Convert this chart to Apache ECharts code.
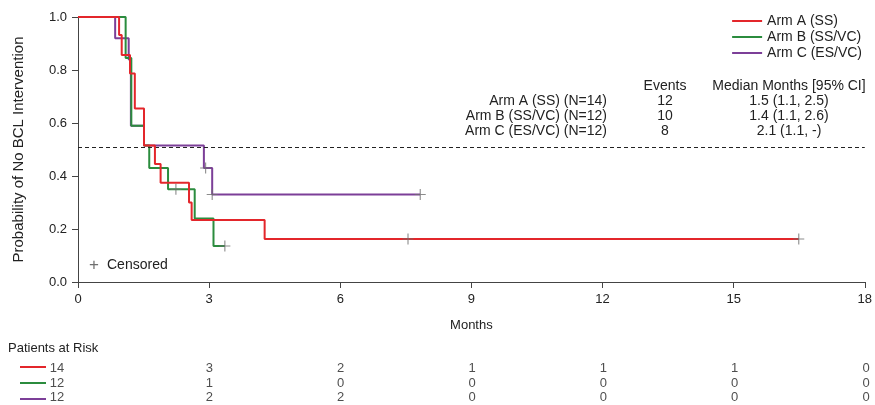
<!DOCTYPE html>
<html>
<head>
<meta charset="utf-8">
<script src="https://cdn.jsdelivr.net/npm/echarts@6/dist/echarts.min.js"></script>
<style>
  html, body { margin: 0; padding: 0; background: #fff; }
  #chart { width: 875px; height: 405px; }
</style>
</head>
<body>
<div id="chart"></div>
<script>
// 曲线数据：时间（月）与生存概率
const armNames = ['Arm A (SS)', 'Arm B (SS/VC)', 'Arm C (ES/VC)']
const armColors = ['#e3262b', '#2b8c3e', '#7c3f98']

const timesA = [0, 0.94, 1.0, 1.19, 1.30, 1.51, 1.76, 1.89, 2.54, 2.60, 4.27, 16.49]
const survA = [1, 0.932, 0.857, 0.787, 0.655, 0.515, 0.445, 0.375, 0.30, 0.234, 0.162, 0.162]
const timesB = [0, 1.09, 1.22, 1.51, 1.63, 2.06, 2.67, 3.10, 3.36]
const survB = [1, 0.845, 0.59, 0.515, 0.43, 0.35, 0.24, 0.136, 0.136]
const timesC = [0, 0.85, 1.16, 1.21, 1.51, 2.88, 3.07, 7.83]
const survC = [1, 0.92, 0.84, 0.59, 0.515, 0.43, 0.33, 0.33]

// 删失点
const censorA = [[7.55, 0.162], [16.49, 0.162]]
const censorB = [[2.24, 0.35], [3.36, 0.136]]
const censorC = [[2.92, 0.43], [3.07, 0.33], [7.83, 0.33]]

// 中位线
const medianLine = 0.51

// 统计表
const tableLabels = ['Arm A (SS) (N=14)', 'Arm B (SS/VC) (N=12)', 'Arm C (ES/VC) (N=12)']
const tableEvents = ['12', '10', '8']
const tableMedians = ['1.5 (1.1, 2.5)', '1.4 (1.1, 2.6)', '2.1 (1.1, -)']

// 风险人数
const riskTimes = [0, 3, 6, 9, 12, 15, 18]
const riskA = [14, 3, 2, 1, 1, 1, 0]
const riskB = [12, 1, 0, 0, 0, 0, 0]
const riskC = [12, 2, 2, 0, 0, 0, 0]

const FONT = '"Liberation Sans", Arial, sans-serif'
const zip = (xs, ys) => xs.map((x, i) => [x, ys[i]])

const curves = [zip(timesA, survA), zip(timesB, survB), zip(timesC, survC)]
const censors = [censorA, censorB, censorC]
const risks = [riskA, riskB, riskC]
const plusPath = 'path://M4.5,0h1v4.5h4.5v1h-4.5v4.5h-1v-4.5h-4.5v-1h4.5z'

const series = []
// 先画紫、绿，最后画红
for (let i = 2; i >= 0; i--) {
    series.push({
        type: 'line',
        name: armNames[i],
        data: curves[i],
        step: 'end',
        showSymbol: false,
        color: armColors[i],
        lineStyle: { width: 2, color: armColors[i] },
        z: 3 + (2 - i),
        markLine: i === 0 ? {
            silent: true,
            symbol: 'none',
            label: { show: false },
            lineStyle: { type: [4, 3], color: '#222', width: 1 },
            data: [{ yAxis: medianLine }]
        } : undefined
    })
}
for (let i = 0; i < 3; i++) {
    series.push({
        type: 'scatter',
        name: 'censor' + i,
        data: censors[i],
        symbol: plusPath,
        symbolSize: 11,
        itemStyle: { color: '#6f6f6f' },
        z: 10
    })
}
// 风险人数表格
for (let i = 0; i < 3; i++) {
    series.push({
        type: 'scatter',
        xAxisIndex: 1,
        yAxisIndex: 1,
        data: riskTimes.map((t, k) => ({
            value: [t, i, risks[i][k]],
            label: k === 0 ? { offset: [-21, 0] } : undefined
        })),
        symbolSize: 1,
        itemStyle: { color: 'transparent' },
        label: {
            show: true,
            position: 'inside',
            formatter: p => p.value[2],
            color: '#222',
            fontSize: 13,
            fontFamily: FONT
        }
    })
}

const graphics = []
const txt = (text, x, y, align, size) => ({
    type: 'text',
    x: x, y: y,
    style: {
        text: text, font: (size || 14) + 'px ' + FONT, fill: '#222',
        textAlign: align, align: align, textVerticalAlign: 'middle', verticalAlign: 'middle'
    }
})
graphics.push(txt('Events', 665, 86, 'center'))
graphics.push(txt('Median Months [95% CI]', 789, 86, 'center'))
for (let i = 0; i < 3; i++) {
    const y = 101 + i * 15
    graphics.push(txt(tableLabels[i], 607, y, 'right'))
    graphics.push(txt(tableEvents[i], 665, y, 'center'))
    graphics.push(txt(tableMedians[i], 789, y, 'center'))
}
graphics.push({
    type: 'text', x: 94, y: 265,
    style: { text: '+', font: '17px ' + FONT, fill: '#6f6f6f', textAlign: 'center', align: 'center', textVerticalAlign: 'middle', verticalAlign: 'middle' }
})
graphics.push(txt('Censored', 107, 265, 'left', 14))
graphics.push(txt('Patients at Risk', 8, 348, 'left', 13))
for (let i = 0; i < 3; i++) {
    graphics.push({
        type: 'line',
        shape: { x1: 20, y1: 367 + i * 16, x2: 46, y2: 367 + i * 16 },
        style: { stroke: armColors[i], lineWidth: 2 }
    })
}

const chart = echarts.init(document.getElementById('chart'))
chart.setOption({
    animation: false,
    backgroundColor: '#fff',
    textStyle: { fontFamily: FONT },
    grid: [
        { left: 78, right: 9, top: 17, height: 265 },
        { left: 78, right: 9, top: 361, height: 48 }
    ],
    legend: {
        data: armNames,
        orient: 'vertical',
        right: 8,
        top: 9,
        itemWidth: 30,
        itemHeight: 2,
        itemGap: 2,
        icon: 'rect',
        textStyle: { fontSize: 14, color: '#222', fontFamily: FONT }
    },
    xAxis: [
        {
            type: 'value', min: 0, max: 18, interval: 3,
            name: 'Months', nameLocation: 'middle', nameGap: 37,
            nameTextStyle: { fontSize: 13, color: '#222' },
            axisLine: { lineStyle: { color: '#444' } },
            axisTick: { length: 6, lineStyle: { color: '#444' } },
            axisLabel: { fontSize: 13, color: '#222', margin: 11 },
            splitLine: { show: false }
        },
        { type: 'value', gridIndex: 1, min: 0, max: 18, show: false }
    ],
    yAxis: [
        {
            type: 'value', min: 0, max: 1, interval: 0.2,
            name: 'Probability of No BCL Intervention', nameLocation: 'middle', nameGap: 52,
            nameTextStyle: { fontSize: 15, color: '#222' },
            axisLine: { show: true, lineStyle: { color: '#444' } },
            axisTick: { show: true, length: 6, lineStyle: { color: '#444' } },
            axisLabel: { fontSize: 13, color: '#222', formatter: v => v.toFixed(1), margin: 11 },
            splitLine: { show: false }
        },
        { type: 'category', gridIndex: 1, data: [0, 1, 2], inverse: true, show: false }
    ],
    graphic: graphics,
    series: series
})
</script>
</body>
</html>
